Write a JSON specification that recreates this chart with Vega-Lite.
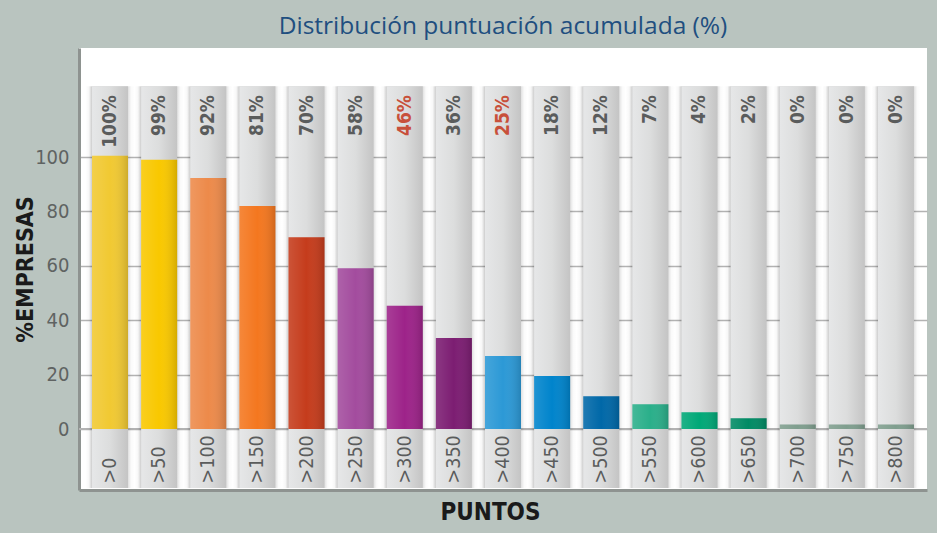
{
  "$schema": "https://vega.github.io/schema/vega-lite/v6.json",
  "autosize": "none",
  "padding": {"left": 79, "top": 48, "right": 10, "bottom": 43},
  "width": 848,
  "height": 442,
  "background": "#b9c4bf",
  "title": {
    "text": "Distribución puntuación acumulada (%)",
    "font": "Open Sans",
    "fontSize": 24.5,
    "fontWeight": "normal",
    "color": "#1f4f80",
    "anchor": "middle",
    "offset": 9
  },
  "config": {
    "view": {"fill": "white", "stroke": null},
    "font": "'Liberation Sans Narrow', 'DejaVu Sans Condensed', Roboto, sans-serif"
  },
  "data": {
    "values": [
      {"puntos": ">0", "valor": 100.5, "etiqueta": "100%", "rojo": false},
      {"puntos": ">50", "valor": 99.0, "etiqueta": "99%", "rojo": false},
      {"puntos": ">100", "valor": 92.3, "etiqueta": "92%", "rojo": false},
      {"puntos": ">150", "valor": 82.0, "etiqueta": "81%", "rojo": false},
      {"puntos": ">200", "valor": 70.5, "etiqueta": "70%", "rojo": false},
      {"puntos": ">250", "valor": 59.1, "etiqueta": "58%", "rojo": false},
      {"puntos": ">300", "valor": 45.3, "etiqueta": "46%", "rojo": true},
      {"puntos": ">350", "valor": 33.5, "etiqueta": "36%", "rojo": false},
      {"puntos": ">400", "valor": 26.9, "etiqueta": "25%", "rojo": true},
      {"puntos": ">450", "valor": 19.5, "etiqueta": "18%", "rojo": false},
      {"puntos": ">500", "valor": 12.1, "etiqueta": "12%", "rojo": false},
      {"puntos": ">550", "valor": 9.1, "etiqueta": "7%", "rojo": false},
      {"puntos": ">600", "valor": 6.2, "etiqueta": "4%", "rojo": false},
      {"puntos": ">650", "valor": 4.0, "etiqueta": "2%", "rojo": false},
      {"puntos": ">700", "valor": 1.7, "etiqueta": "0%", "rojo": false},
      {"puntos": ">750", "valor": 1.7, "etiqueta": "0%", "rojo": false},
      {"puntos": ">800", "valor": 1.7, "etiqueta": "0%", "rojo": false}
    ]
  },
  "encoding": {
    "x": {
      "field": "puntos",
      "type": "nominal",
      "sort": null,
      "scale": {"paddingInner": 0.267, "paddingOuter": 0.265},
      "axis": {
        "title": "PUNTOS",
        "labels": false,
        "ticks": false,
        "domain": true,
        "domainColor": "#8e9390",
        "domainWidth": 3,
        "titleFont": "'Liberation Sans Narrow', 'DejaVu Sans Condensed', Roboto, sans-serif",
        "titleFontSize": 24,
        "titleFontWeight": "bold",
        "titleColor": "#1a1a1a",
        "titlePadding": 10,
        "titleX": 411
      }
    }
  },
  "layer": [
    {
      "mark": {"type": "rule", "color": "#b3b3b3", "strokeWidth": 1.5},
      "encoding": {
        "x": null,
        "y": {"datum": 0, "type": "quantitative"}
      }
    },
    {
      "mark": {
        "type": "bar",
        "width": {"band": 1.3646},
        "fill": {
          "gradient": "linear",
          "x1": 0, "y1": 0, "x2": 1, "y2": 0,
          "stops": [
            {"offset": 0, "color": "rgba(0,0,0,0)"},
            {"offset": 0.07, "color": "rgba(0,0,0,0.03)"},
            {"offset": 0.134, "color": "rgba(0,0,0,0.2)"},
            {"offset": 0.866, "color": "rgba(0,0,0,0.12)"},
            {"offset": 0.93, "color": "rgba(0,0,0,0.02)"},
            {"offset": 1, "color": "rgba(0,0,0,0)"}
          ]
        }
      },
      "encoding": {
        "y": {"datum": 126, "type": "quantitative"},
        "y2": {"datum": -21.7}
      }
    },
    {
      "mark": {
        "type": "bar",
        "fill": {
          "gradient": "linear",
          "x1": 0, "y1": 0, "x2": 1, "y2": 0,
          "stops": [
            {"offset": 0, "color": "#e6e7e8"},
            {"offset": 0.5, "color": "#dcdddd"},
            {"offset": 1, "color": "#c4c4c4"}
          ]
        }
      },
      "encoding": {
        "y": {
          "datum": 126,
          "type": "quantitative",
          "scale": {"domain": [-22.4, 140.1], "nice": false, "zero": false},
          "axis": {
            "values": [0, 20, 40, 60, 80, 100],
            "grid": true,
            "gridColor": "#b3b3b3",
            "gridWidth": 1.5,
            "ticks": false,
            "domain": true,
            "domainColor": "#8e9390",
            "domainWidth": 3,
            "labelFont": "'Liberation Sans Narrow', 'DejaVu Sans Condensed', Roboto, sans-serif",
            "labelFontSize": 20,
            "labelColor": "#5f6362",
            "labelPadding": 10,
            "title": "%EMPRESAS",
            "titleFont": "'Liberation Sans Narrow', 'DejaVu Sans Condensed', Roboto, sans-serif",
            "titleFontSize": 23,
            "titleFontWeight": "bold",
            "titleColor": "#1a1a1a",
            "titlePadding": -3,
            "titleY": 221
          }
        },
        "y2": {"datum": -21.7}
      }
    },
    {
      "mark": {"type": "bar"},
      "encoding": {
        "y": {"field": "valor", "type": "quantitative"},
        "y2": {"datum": 0},
        "fill": {
          "field": "puntos",
          "type": "nominal",
          "legend": null,
          "scale": {
            "domain": [">0", ">50", ">100", ">150", ">200", ">250", ">300", ">350", ">400", ">450", ">500", ">550", ">600", ">650", ">700", ">750", ">800"],
            "range": ["#f1c932", "#f9c800", "#ed8a4a", "#f4771f", "#c53c1c", "#a34c9e", "#9d2389", "#7c1d72", "#2c99d6", "#0084cc", "#0068a8", "#2aaf8a", "#00a877", "#008a64", "#7f9e8e", "#7f9e8e", "#7f9e8e"]
          }
        }
      }
    },
    {
      "mark": {
        "type": "bar",
        "fill": {
          "gradient": "linear",
          "x1": 0, "y1": 0, "x2": 1, "y2": 0,
          "stops": [
            {"offset": 0, "color": "rgba(255,255,255,0.12)"},
            {"offset": 0.5, "color": "rgba(255,255,255,0)"},
            {"offset": 1, "color": "rgba(0,0,0,0.15)"}
          ]
        }
      },
      "encoding": {
        "y": {"field": "valor", "type": "quantitative"},
        "y2": {"datum": 0}
      }
    },
    {
      "mark": {
        "type": "text",
        "angle": 270,
        "align": "right",
        "baseline": "middle",
        "font": "'Liberation Sans Narrow', 'DejaVu Sans Condensed', Roboto, sans-serif",
        "fontSize": 19,
        "fontWeight": "bold"
      },
      "encoding": {
        "y": {"datum": 122.8, "type": "quantitative"},
        "text": {"field": "etiqueta"},
        "color": {
          "condition": {"test": "datum.rojo", "value": "#c8503a"},
          "value": "#5a5c5c"
        }
      }
    },
    {
      "mark": {
        "type": "text",
        "angle": 270,
        "align": "left",
        "baseline": "middle",
        "font": "'Liberation Sans Narrow', 'DejaVu Sans Condensed', Roboto, sans-serif",
        "fontSize": 19.5,
        "fontWeight": "normal",
        "color": "#5a5c5c"
      },
      "encoding": {
        "y": {"datum": -20, "type": "quantitative"},
        "text": {"field": "puntos"}
      }
    }
  ]
}
